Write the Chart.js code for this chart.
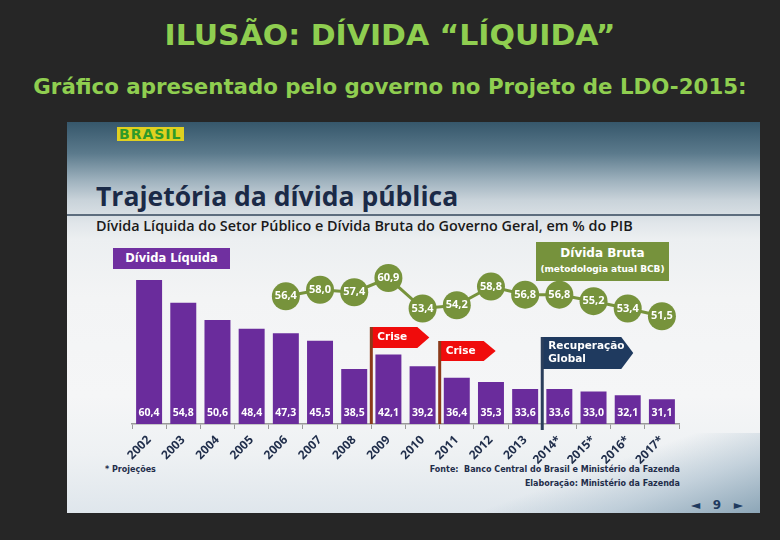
<!DOCTYPE html>
<html><head><meta charset="utf-8">
<script src="https://cdn.jsdelivr.net/npm/chart.js@4.4.1/dist/chart.umd.min.js"></script>
<style>
html,body{margin:0;padding:0;width:780px;height:540px;background:#262626;overflow:hidden;font-family:"Open Sans",sans-serif}
.t1{position:absolute;left:0;width:780px;top:19px;text-align:center;color:#8fce50;font:bold 28px "DejaVu Sans";transform:scaleX(1.07)}
.t2{position:absolute;left:0;width:780px;top:74px;text-align:center;color:#8fce50;font:bold 22px "DejaVu Sans";transform:scaleX(0.97)}
#slide{position:absolute;left:67px;top:122px;width:693px;height:391px;overflow:hidden;
 background:linear-gradient(180deg,#36576b 0%,#5b7a8c 8%,#9fb2be 15%,#c9d3da 20%,#e1e6ea 26%,#eceff1 30%,#f3f4f5 45%,#f5f6f7 70%,#eef1f3 85%,#dfe6ec 100%)}
#wave{position:absolute;right:0;bottom:0;width:300px;height:80px;
 background:linear-gradient(160deg,rgba(255,255,255,0) 45%,rgba(170,190,205,0.6) 70%,rgba(120,150,170,0.8) 100%)}
.logo{position:absolute;left:50px;top:5px;font:bold 14px "DejaVu Sans";color:#2e9a2a;letter-spacing:1px;background:#e0d020;padding:0 2px;line-height:14px}
.h1{position:absolute;left:29px;top:56px;font:bold 26.5px "Open Sans";color:#1b2a47}
.rule{position:absolute;left:0;top:92px;width:693px;height:2px;background:#5d6d7e}
.h2{position:absolute;left:29px;top:94px;font:600 14.4px "Open Sans";color:#1a1a1a}
.lbl1{position:absolute;left:46px;top:126px;width:117px;height:21px;background:#7030a0;color:#fff;font:bold 11.5px "DejaVu Sans";line-height:21px;text-align:center}
.lbl2{position:absolute;left:469px;top:120px;width:133px;height:39px;background:#76923c;color:#fff;text-align:center;font:bold 12px "DejaVu Sans";line-height:15px;padding-top:4px;box-sizing:border-box}
.lbl2 span{font-size:9px}
.foot{position:absolute;font:bold 8px "DejaVu Sans";color:#1f2d4a}
.nav{position:absolute;left:624px;top:376px;font:bold 12px "DejaVu Sans";color:#1f3a5f}
#wrap{position:absolute;left:0;top:0;width:693px;height:391px}
</style></head>
<body>
<div class="t1">ILUSÃO: DÍVIDA “LÍQUIDA”</div>
<div class="t2">Gráfico apresentado pelo governo no Projeto de LDO-2015:</div>
<div id="slide">
 <div id="wave"></div>
 <div class="logo">BRASIL</div>
 <div class="h1">Trajetória da dívida pública</div>
 <div class="rule"></div>
 <div class="h2">Dívida Líquida do Setor Público e Dívida Bruta do Governo Geral, em % do PIB</div>
 <div class="lbl1">Dívida Líquida</div>
 <div class="lbl2">Dívida Bruta<br><span>(metodologia atual BCB)</span></div>
 <div class="foot" style="left:38px;top:343px">* Projeções</div>
 <div class="foot" style="right:80px;top:343px">Fonte:&nbsp; Banco Central do Brasil e Ministério da Fazenda</div>
 <div class="foot" style="right:80px;top:357px">Elaboração: Ministério da Fazenda</div>
 <div class="nav">◄&nbsp;&nbsp;&nbsp;9&nbsp;&nbsp;&nbsp;►</div>
 <div id="wrap"><canvas id="c"></canvas></div>
</div>
<script>
const years = ["2002","2003","2004","2005","2006","2007","2008","2009","2010","2011","2012","2013","2014*","2015*","2016*","2017*"];
const dividaLiquida = [60.4,54.8,50.6,48.4,47.3,45.5,38.5,42.1,39.2,36.4,35.3,33.6,33.6,33.0,32.1,31.1];
const dividaBruta = [null,null,null,null,56.4,58.0,57.4,60.9,53.4,54.2,58.8,56.8,56.8,55.2,53.4,51.5];
const flagLabels = [["Crise"],["Crise"],["Recuperação","Global"]];
const flagAfterIndex = [6,8,11];

const fmt = v => v.toFixed(1).replace('.', ',');

const labelPlugin = {
  id:'labels',
  afterDatasetsDraw(chart){
    const ctx = chart.ctx;
    const xs = chart.scales.x, ys = chart.scales.y;
    const base = ys.bottom;
    const flagStyle = [
      {top:205,h:21,w:58,fill:'#f00c0c',pole:'#8b3a1a',bottom:base},
      {top:219,h:20,w:56,fill:'#f00c0c',pole:'#8b3a1a',bottom:base},
      {top:215,h:32,w:91,fill:'#1f3a5f',pole:'#2b3f5c',bottom:base+6}
    ];
    flagAfterIndex.forEach((idx,k)=>{
      const s = flagStyle[k];
      const px = (xs.getPixelForValue(idx)+xs.getPixelForValue(idx+1))/2;
      ctx.save();
      ctx.fillStyle = s.fill;
      ctx.beginPath();
      ctx.moveTo(px, s.top);
      ctx.lineTo(px+s.w-12, s.top);
      ctx.lineTo(px+s.w, s.top+s.h/2);
      ctx.lineTo(px+s.w-12, s.top+s.h);
      ctx.lineTo(px, s.top+s.h);
      ctx.closePath(); ctx.fill();
      ctx.strokeStyle = s.pole; ctx.lineWidth = 3;
      ctx.beginPath(); ctx.moveTo(px, s.top); ctx.lineTo(px, s.bottom); ctx.stroke();
      ctx.fillStyle = '#fff'; ctx.font = 'bold 10.5px "DejaVu Sans"';
      ctx.textAlign='left'; ctx.textBaseline='middle';
      const lines = flagLabels[k];
      lines.forEach((t,j)=>{
        const y = lines.length===1 ? s.top+s.h/2 : s.top+9+j*13;
        ctx.fillText(t, px+6, y);
      });
      ctx.restore();
    });
    const m0 = chart.getDatasetMeta(0);
    ctx.save();
    ctx.fillStyle='#fff'; ctx.font='bold 10.5px "Open Sans"';
    ctx.textAlign='center'; ctx.textBaseline='middle';
    m0.data.forEach((b,i)=>{ ctx.fillText(fmt(dividaLiquida[i]), b.x, base-11); });
    const m1 = chart.getDatasetMeta(1);
    ctx.font='bold 11px "Open Sans"';
    m1.data.forEach((p,i)=>{ if(dividaBruta[i]!=null) ctx.fillText(fmt(dividaBruta[i]), p.x, p.y); });
    ctx.restore();
  }
};

new Chart(document.getElementById('c'),{
  type:'bar',
  data:{labels:years,datasets:[
    {type:'bar',data:dividaLiquida,backgroundColor:'#6a2c9c',categoryPercentage:1,barPercentage:0.76,order:2},
    {type:'line',data:dividaBruta,borderColor:'#77933c',borderWidth:3,pointRadius:14,pointHoverRadius:14,
     pointBackgroundColor:'#77933c',pointBorderWidth:0,order:1,spanGaps:false}
  ]},
  options:{
    responsive:true,maintainAspectRatio:false,animation:false,
    layout:{padding:{left:65,right:81,top:119,bottom:44}},
    plugins:{legend:{display:false},tooltip:{enabled:false}},
    scales:{
      x:{grid:{display:true,drawOnChartArea:false,tickLength:5,color:'#9a9a9a',offset:true},
         border:{display:true,color:'#9a9a9a',width:1.5},
         ticks:{autoSkip:false,minRotation:45,maxRotation:45,color:'#1f2d4a',padding:4,
                font:{family:'"Open Sans"',weight:'bold',size:12}},
         afterFit(s){s.height=45;}},
      y:{display:false,min:25,max:70}
    }
  },
  plugins:[labelPlugin]
});
</script>
</body></html>
